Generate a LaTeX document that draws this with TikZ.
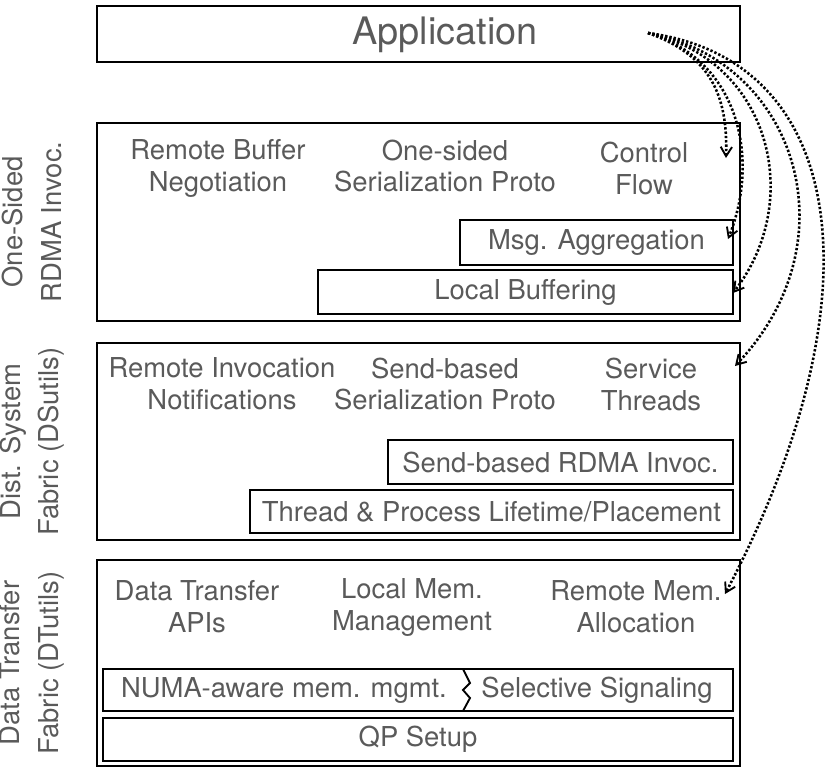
\documentclass[tikz,border=0pt]{standalone}
\usepackage{fontspec}
\setmainfont{TeX Gyre Heros}
\usetikzlibrary{positioning, arrows.meta}
\definecolor{txtgray}{RGB}{90, 90, 90}

\begin{document}
\begin{tikzpicture}[x=0.03cm, y=-0.03cm,
        lay/.style={draw, line width=2pt, minimum width=19.29cm},
        blk/.style={draw, line width=2pt, text=txtgray, inner sep=0pt,
                    font=\fontsize{23.4}{27.3}\selectfont},
        itm/.style={text=txtgray, align=center,
                    font=\fontsize{23.4}{27.3}\selectfont},
        grp/.style={text=txtgray, align=center, rotate=90,
                    font=\fontsize{23.4}{33}\selectfont},
        call/.style={dash pattern=on 2pt off 1.7pt, line width=2.2pt,
                     -{Straight Barb[length=2.8mm, width=3.4mm, line width=1.6pt]}}
    ]

    \useasboundingbox (0,0) rectangle (831,775);

    % application
    \node[lay, minimum height=1.68cm] (app) at (418.5, 34) {};
    \node[text=txtgray, font=\fontsize{32.3}{36}\selectfont] (apt) at (445, 35) {Application};

    % one-sided RDMA invocation layer
    \node[lay, minimum height=5.94cm] (osl) at (418.5, 222) {};
    \node[grp] (osg) at (32, 222) {One-Sided\\RDMA Invoc.};
    \node[itm] (rbn) at (218, 168) {Remote Buffer\\Negotiation};
    \node[itm] (osp) at (445, 166) {One-sided\\Serialization Proto};
    \node[itm] (cfl) at (644, 168) {Control\\Flow};
    \node[blk, minimum width=8.19cm, minimum height=1.35cm] (mag) at (596.5, 242.5) {Msg. Aggregation};
    \node[blk, minimum width=12.45cm, minimum height=1.32cm] (lbf) at (525.5, 292) {Local Buffering};

    % distributed system fabric
    \node[lay, minimum height=5.91cm] (dsl) at (418.5, 441.5) {};
    \node[grp] (dsg) at (32, 441.5) {Dist. System\\Fabric (DSutils)};
    \node[itm] (rin) at (222, 384) {Remote Invocation\\Notifications};
    \node[itm] (sbp) at (445, 384) {Send-based\\Serialization Proto};
    \node[itm] (sth) at (651, 384) {Service\\Threads};
    \node[blk, minimum width=10.35cm, minimum height=1.32cm] (sri) at (560.5, 462) {Send-based RDMA Invoc.};
    \node[blk, minimum width=14.49cm, minimum height=1.29cm] (tpl) at (491.5, 511.5) {Thread \& Process Lifetime/Placement};

    % data transfer fabric
    \node[lay, minimum height=6.18cm] (dtl) at (418.5, 663) {};
    \node[grp] (dtg) at (32, 663) {Data Transfer\\Fabric (DTutils)};
    \node[itm] (dta) at (197, 607) {Data Transfer\\APIs};
    \node[itm] (lmm) at (412, 607) {Local Mem.\\Management};
    \node[itm] (rma) at (636, 607) {Remote Mem.\\Allocation};
    \node[blk, minimum width=18.9cm, minimum height=1.26cm] (nss) at (418, 690) {};
    \node[itm] (nma) at (284, 690) {NUMA-aware mem. mgmt.};
    \node[itm] (ssg) at (597, 690) {Selective Signaling};
    \draw[line width=1.6pt] (463, 669) -- (470, 683) -- (463, 690) -- (470, 698) -- (463, 711);
    \node[blk, minimum width=18.9cm, minimum height=1.29cm] (qps) at (418, 739.5) {QP Setup};

    % calls from the application
    \coordinate (src) at (648, 33);
    \coordinate (e1) at (726, 158);
    \coordinate (e2) at (728, 239);
    \coordinate (e3) at (733, 293);
    \coordinate (e4) at (735, 366);
    \coordinate (e5) at (725, 594);
    \draw[call] (src) .. controls (710, 55) and (728, 95) .. (e1);
    \draw[call] (src) .. controls (740, 60) and (760, 160) .. (e2);
    \draw[call] (src) .. controls (770, 60) and (805, 200) .. (e3);
    \draw[call] (src) .. controls (795, 60) and (855, 240) .. (e4);
    \draw[call] (src) .. controls (850, 60) and (880, 300) .. (e5);

    \end{tikzpicture}
\end{document}
